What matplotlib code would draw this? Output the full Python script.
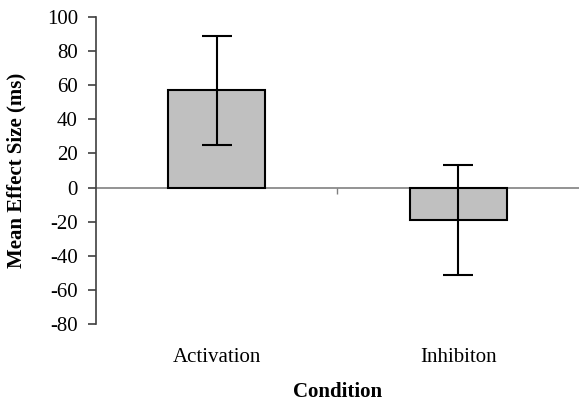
import matplotlib.pyplot as plt

# data
conditions = ['Activation', 'Inhibiton']
means = [57, -19]
errors = [32, 32]

plt.rcParams['font.family'] = ['Liberation Serif', 'DejaVu Serif']
plt.rcParams['axes.unicode_minus'] = False

fig = plt.figure(figsize=(5.79, 4.03), dpi=100)
ax = fig.add_axes([0.1658, 0.196, 0.8342, 0.762])

x = range(len(conditions))
ax.bar(x, means, width=0.4, color='#c0c0c0', edgecolor='black', linewidth=1.5, zorder=2)
ax.errorbar(x, means, yerr=errors, fmt='none', ecolor='black', elinewidth=1.5,
            capsize=11, capthick=1.5, zorder=3)

ax.set_xlim(-0.5, 1.5)
ax.set_ylim(-80, 100)
ax.set_yticks(range(-80, 101, 20))

# zero line with tick between categories
ax.axhline(0, color='#808080', linewidth=1.2, zorder=1)
sec = ax.secondary_xaxis(80 / 180)
sec.spines['bottom'].set_visible(False)
sec.set_xticks([0.5])
sec.set_xticklabels([])
sec.tick_params(length=4, width=1, color='#808080')

for s in ['top', 'right', 'bottom']:
    ax.spines[s].set_visible(False)
ax.spines['left'].set_color('#404040')
ax.spines['left'].set_linewidth(1.2)

ax.set_xticks(list(x))
ax.set_xticklabels(conditions, fontsize=15)
ax.tick_params(axis='x', length=0, pad=17)
ax.tick_params(axis='y', length=6, width=1.2, color='#404040', labelsize=15, pad=7)

ax.set_ylabel('Mean Effect Size (ms)', fontsize=15, fontweight='bold')
ax.yaxis.set_label_coords(-0.143, 0.5)
ax.set_xlabel('Condition', fontsize=15, fontweight='bold')
ax.xaxis.set_label_coords(0.5, -0.19)

fig.savefig('out.png', dpi=100)
